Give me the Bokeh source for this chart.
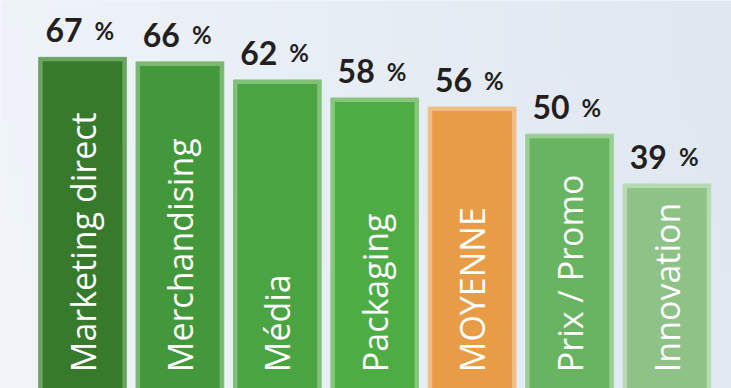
from bokeh.plotting import figure
from bokeh.models import ColumnDataSource, Range1d
from bokeh.embed import file_html
from bokeh.resources import INLINE
from bokeh.core.properties import value
import numpy as np
import math

categories = ["Marketing direct", "Merchandising", "Média", "Packaging", "MOYENNE", "Prix / Promo", "Innovation"]
values = [67, 66, 62, 58, 56, 50, 39]
numbers = ["67", "66", "62", "58", "56", "50", "39"]
fill_colors = ["#377a2b", "#43983b", "#49a441", "#4eac45", "#e89c45", "#69b461", "#8ec286"]
edge_colors = ["#6aa660", "#78b870", "#80c078", "#86c67e", "#f1bd82", "#9ccf94", "#b7dbb1"]

W, H = 731, 388
Y0, Y1 = -6.26, 79.58
X0, X1 = -0.842, 6.663
px_per_unit_y = H / (Y1 - Y0)
px_per_unit_x = W / (X1 - X0)

xs = list(range(len(categories)))
inner_tops = [v - 4 / px_per_unit_y for v in values]
pct = ["%"] * len(values)

src = ColumnDataSource(dict(x=xs, top=values, inner_top=inner_tops, cat=categories,
                            num=numbers, pct=pct, fill=fill_colors, edge=edge_colors))

p = figure(width=W, height=H, output_backend="svg", toolbar_location=None,
           x_range=Range1d(X0, X1), y_range=Range1d(Y0, Y1),
           min_border=0, min_border_left=0, min_border_right=0, min_border_top=0, min_border_bottom=0)
p.axis.visible = False
p.grid.visible = False
p.outline_line_color = None
p.background_fill_color = "#e9eef5"
p.border_fill_color = "#e9eef5"

# soft background gradient (light at left, bluish-grey at right)
nx, ny = 64, 16
gx = np.linspace(0, 1, nx)[None, :]
gy = np.linspace(0, 1, ny)[:, None]
c_left = np.array([0xf1, 0xf5, 0xfa])
c_right = np.array([0xdf, 0xe7, 0xf1])
t = np.clip(gx * 0.9 + gy * 0.1, 0, 1)
img = np.zeros((ny, nx), dtype=np.uint32)
view = img.view(dtype=np.uint8).reshape((ny, nx, 4))
for k in range(3):
    view[:, :, k] = (c_left[k] * (1 - t) + c_right[k] * t).astype(np.uint8)
view[:, :, 3] = 255
p.image_rgba(image=[img], x=X0, y=Y0, dw=X1 - X0, dh=Y1 - Y0)

p.vbar(x="x", top="top", bottom=Y0 - 5, width=0.9, source=src,
       fill_color="edge", line_color="edge", line_width=1)
p.vbar(x="x", top="inner_top", bottom=Y0 - 5, width=0.9 - 8 / px_per_unit_x, source=src,
       fill_color="fill", line_color=None)

p.text(x="x", y="top", text="num", source=src, text_align="right", text_baseline="alphabetic",
       x_offset=0, y_offset=-27, text_font=value("Lato"), text_font_style="bold",
       text_font_size="32px", text_color="#231f20")
p.text(x="x", y="top", text="pct", source=src, text_align="left", text_baseline="alphabetic",
       x_offset=12, y_offset=-27, text_font=value("Lato"), text_font_style="bold",
       text_font_size="24px", text_color="#231f20")

p.text(x="x", y=0, text="cat", source=src, angle=math.pi / 2, text_align="left",
       text_baseline="middle", y_offset=12, text_font=value("Open Sans"),
       text_font_size="34px", text_color="white")

open("out.html", "w").write(file_html(p, INLINE))
